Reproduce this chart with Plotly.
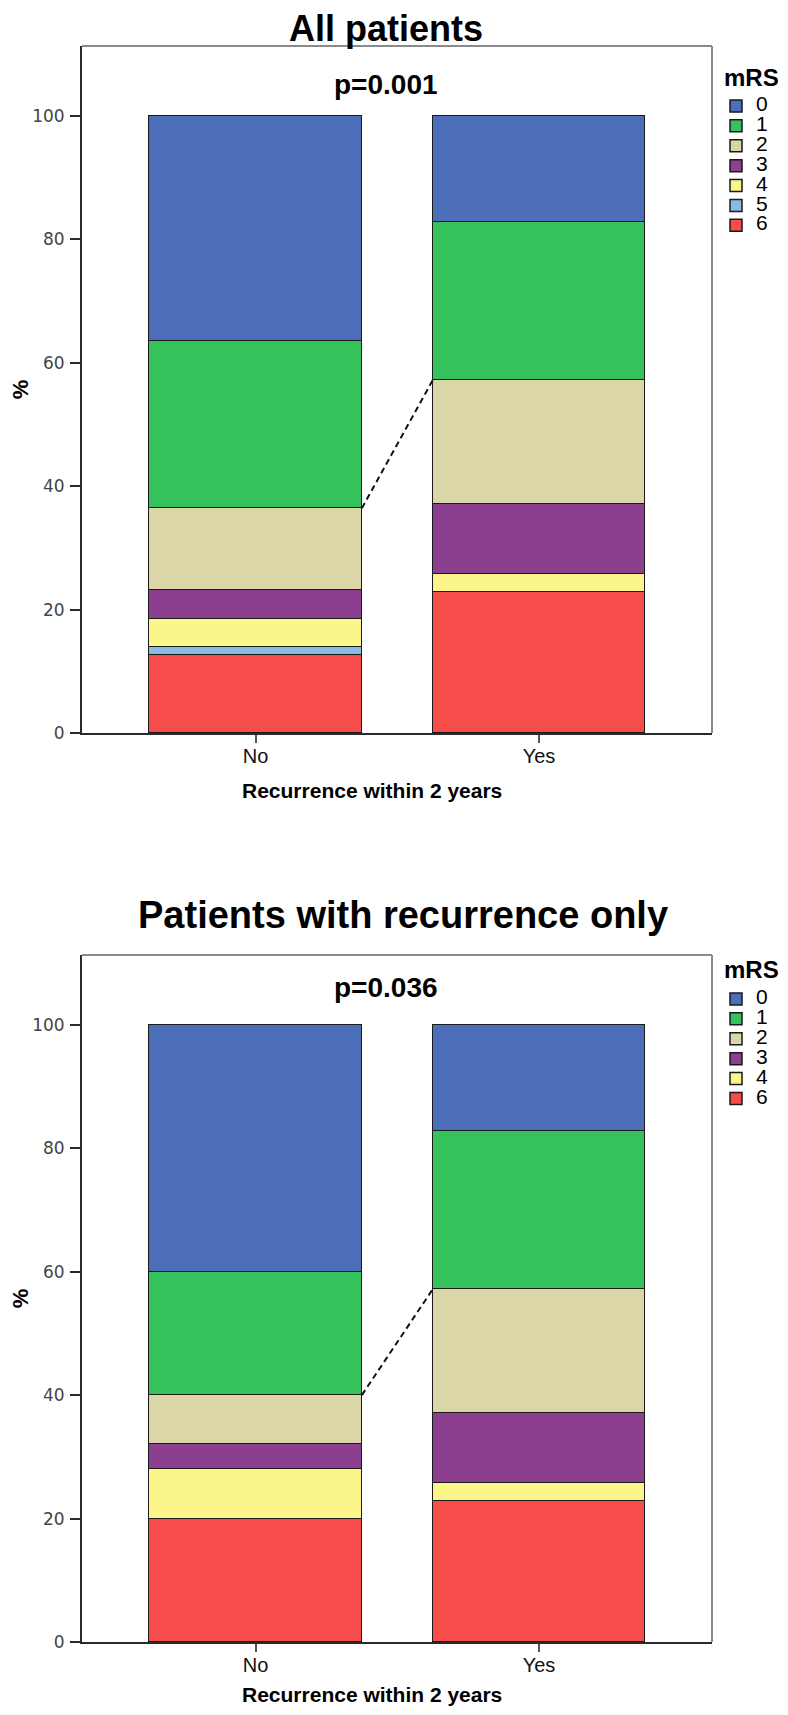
import plotly.graph_objects as go

# ---------------- data ----------------
groups = ["No", "Yes"]
group_pos = [0, 1]
levels_top = ["6", "5", "4", "3", "2", "1", "0"]          # stacking order (bottom -> top)
levels_bottom = ["6", "4", "3", "2", "1", "0"]

# All patients (% per group)
top_pct = {
    "0": [36.5, 17.14],
    "1": [27.1, 25.71],
    "2": [13.2, 20.0],
    "3": [4.8, 11.43],
    "4": [4.5, 2.86],
    "5": [1.3, None],
    "6": [12.6, 22.86],
}
# Patients with recurrence only (% per group)
bottom_pct = {
    "0": [40.0, 17.14],
    "1": [20.0, 25.71],
    "2": [8.0, 20.0],
    "3": [4.0, 11.43],
    "4": [8.0, 2.86],
    "6": [20.0, 22.86],
}
p_top = "p=0.001"
p_bottom = "p=0.036"
title_top = "All patients"
title_bottom = "Patients with recurrence only"
legend_title = "mRS"
x_title = "Recurrence within 2 years"
y_title = "%"
y_ticks = [0, 20, 40, 60, 80, 100]

colors = {
    "0": "#4C6EB8",
    "1": "#35C15C",
    "2": "#DBD6A8",
    "3": "#8C3E8F",
    "4": "#FBF58A",
    "5": "#8BBAE3",
    "6": "#F64D4A",
}

BAR_W = 0.75
FONT = "Liberation Sans, Arial, sans-serif"
TICKFONT = "DejaVu Sans, Verdana, sans-serif"

fig = go.Figure()


def add_panel(levels, data, xa, ya, legend):
    for lv in levels:
        fig.add_trace(go.Bar(
            x=group_pos, y=data[lv], name=f"<span style='font-size:21px'>{lv}</span>",
            marker=dict(color=colors[lv], line=dict(color="#1a1a1a", width=1.5)),
            width=BAR_W, xaxis=xa, yaxis=ya, legend=legend,
            hovertemplate=f"mRS {lv}: %{{y}}%<extra></extra>",
        ))
    # dashed connector between the tops of the mRS 2 segments
    tops = []
    for gi in range(len(groups)):
        s = 0.0
        for lv in levels:
            v = data[lv][gi]
            s += v if v is not None else 0.0
            if lv == "2":
                break
        tops.append(s)
    fig.add_trace(go.Scatter(
        x=[group_pos[0] + BAR_W / 2, group_pos[1] - BAR_W / 2], y=tops,
        mode="lines", line=dict(color="#111", width=2, dash="6px,4px"),
        showlegend=False, xaxis=xa, yaxis=ya, hoverinfo="skip",
    ))


add_panel(levels_top, top_pct, "x", "y", "legend")
add_panel(levels_bottom, bottom_pct, "x2", "y2", "legend2")

# ---------------- layout ----------------
# the page body has an 8px margin, so the figure is 8px smaller than the window
W, H = 780, 1707
ML, MR, MT, MB = 74, 76, 38, 73
PH = H - MT - MB


def py(px):  # figure pixel y -> paper fraction
    return (H - MB - px) / PH


def px_x(px):  # figure pixel x -> paper fraction
    return (px - ML) / (W - ML - MR)


xaxis_common = dict(
    range=[-0.612, 1.61], tickvals=group_pos, ticktext=groups, automargin=False,
    showline=True, linecolor="#2a2a2a", linewidth=2,
    ticks="outside", ticklen=8, tickwidth=1.5, tickcolor="#555",
    tickfont=dict(family=FONT, size=20, color="#111"),
    ticklabelstandoff=-4,
    showgrid=False, zeroline=False, fixedrange=True,
)
yaxis_common = dict(
    range=[0, 111.3], tickvals=y_ticks, automargin=False,
    showline=True, linecolor="#2a2a2a", linewidth=2,
    ticks="outside", ticklen=10, tickwidth=2, tickcolor="#2a2a2a",
    tickfont=dict(family=TICKFONT, size=17, color="#444"),
    ticklabelstandoff=2,
    showgrid=False, zeroline=False, fixedrange=True,
    title=dict(text=f"<b>{y_title}</b>", font=dict(family=FONT, size=22, color="#000"), standoff=15),
)

legend_common = dict(
    traceorder="reversed", xanchor="left", yanchor="top",
    font=dict(family=FONT, size=13, color="#000"), bgcolor="rgba(0,0,0,0)",
    itemclick=False, itemdoubleclick=False,
)

fig.update_layout(
    width=W, height=H,
    margin=dict(l=ML, r=MR, t=MT, b=MB, autoexpand=False),
    paper_bgcolor="white", plot_bgcolor="white",
    barmode="stack", bargap=0,
    font=dict(family=FONT, color="#000"),
    xaxis=dict(domain=[0, 1], anchor="y", **xaxis_common),
    yaxis=dict(domain=[py(725), 1], anchor="x", **yaxis_common),
    xaxis2=dict(domain=[0, 1], anchor="y2", **xaxis_common),
    yaxis2=dict(domain=[0, py(947)], anchor="x2", **yaxis_common),
    title=dict(text=f"<b>{title_top}</b>", x=378 / W, xanchor="center",
               y=1 - 20 / H, yanchor="middle", yref="container",
               font=dict(family=FONT, size=36, color="#000")),
    legend=dict(x=px_x(708), y=py(83), **legend_common),
    legend2=dict(x=px_x(708), y=py(976), **legend_common),
    showlegend=True,
)

# top/right frame lines (lighter grey) for each panel
for xa, ya in [("x", "y"), ("x2", "y2")]:
    fig.add_shape(type="line", xref=f"{xa} domain", yref=f"{ya} domain",
                  x0=0, x1=1, y0=1, y1=1, line=dict(color="#8a8a8a", width=2), layer="above")
    fig.add_shape(type="line", xref=f"{xa} domain", yref=f"{ya} domain",
                  x0=1, x1=1, y0=0, y1=1, line=dict(color="#8a8a8a", width=2), layer="above")

# legend titles
for yy in (69, 961):
    fig.add_annotation(text=f"<b>{legend_title}</b>", x=px_x(714), xref="paper", xanchor="left",
                       y=py(yy), yref="paper", yanchor="middle", showarrow=False,
                       font=dict(family=FONT, size=24, color="#000"))

# x-axis titles (placed like the original, slightly left of centre)
for yy in (782, 1686):
    fig.add_annotation(text=f"<b>{x_title}</b>", x=px_x(364), xref="paper", xanchor="center",
                       y=py(yy), yref="paper", yanchor="middle", showarrow=False,
                       font=dict(family=FONT, size=21, color="#000"))

# p-values
fig.add_annotation(text=f"<b>{p_top}</b>", x=0.459, y=105.0, xref="x", yref="y",
                   showarrow=False, font=dict(family=FONT, size=28, color="#000"))
fig.add_annotation(text=f"<b>{p_bottom}</b>", x=0.459, y=106.0, xref="x2", yref="y2",
                   showarrow=False, font=dict(family=FONT, size=28, color="#000"))
# second panel title
fig.add_annotation(text=f"<b>{title_bottom}</b>", x=px_x(395), xref="paper", xanchor="center",
                   y=py(907), yref="paper", yanchor="middle", showarrow=False,
                   font=dict(family=FONT, size=38, color="#000"))

fig.write_html("out.html")
